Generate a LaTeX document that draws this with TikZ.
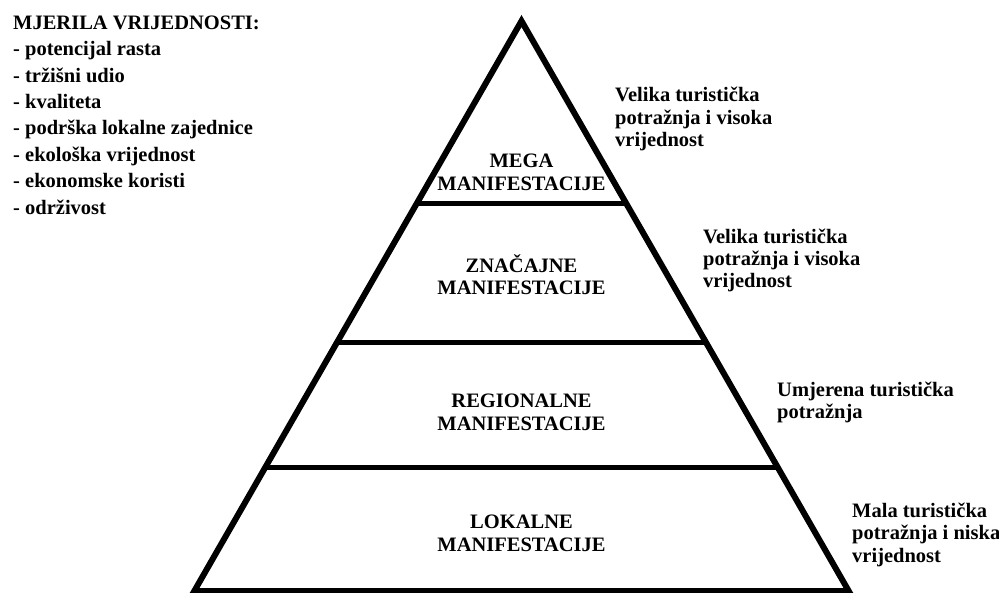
\documentclass[tikz,border=0pt]{standalone}
\usepackage{fontspec}
\setmainfont{Liberation Serif}
\usetikzlibrary{calc}
\begin{document}
\begin{tikzpicture}[x=1pt,y=-1pt,
  txt/.style={inner sep=0pt, font=\fontsize{20.5}{22.5}\selectfont\bfseries},
  lt/.style={txt, anchor=base west},
  ct/.style={txt, anchor=base},
  side/.style={line width=6pt, line join=miter},
  level/.style={line width=5pt}]
\useasboundingbox (0,0) rectangle (999,592);
\clip (0,0) rectangle (999,592);
% pyramid
\coordinate (apex) at (521.5,21);
\coordinate (bl) at (194.3,591);
\coordinate (br) at (848.7,591);
\draw[side] (apex) -- (br) -- (bl) -- cycle;
\coordinate (l1) at ($(apex)!0.3193!(bl)$);
\coordinate (r1) at ($(apex)!0.3193!(br)$);
\coordinate (l2) at ($(apex)!0.5649!(bl)$);
\coordinate (r2) at ($(apex)!0.5649!(br)$);
\coordinate (l3) at ($(apex)!0.7842!(bl)$);
\coordinate (r3) at ($(apex)!0.7842!(br)$);
\draw[level] (l1) -- (r1);
\draw[level] (l2) -- (r2);
\draw[level] (l3) -- (r3);
% level labels
\node[ct] (mega1) at (521.5,167) {MEGA};
\node[ct] (mega2) at (521.5,190) {MANIFESTACIJE};
\node[ct] (zn1) at (521.5,272) {ZNAČAJNE};
\node[ct] (zn2) at (521.5,294.5) {MANIFESTACIJE};
\node[ct] (reg1) at (521.5,407) {REGIONALNE};
\node[ct] (reg2) at (521.5,430) {MANIFESTACIJE};
\node[ct] (lok1) at (521.5,528) {LOKALNE};
\node[ct] (lok2) at (521.5,551) {MANIFESTACIJE};
% right descriptions
\node[lt] (d1a) at (615,101.7) {Velika turistička};
\node[lt] (d1b) at (615,124.2) {potražnja i visoka};
\node[lt] (d1c) at (615,146.7) {vrijednost};
\node[lt] (d2a) at (703,243.3) {Velika turistička};
\node[lt] (d2b) at (703,265.5) {potražnja i visoka};
\node[lt] (d2c) at (703,287.7) {vrijednost};
\node[lt] (d3a) at (777,396) {Umjerena turistička};
\node[lt] (d3b) at (777,418.5) {potražnja};
\node[lt] (d4a) at (852,517) {Mala turistička};
\node[lt] (d4b) at (852,539.5) {potražnja i niska};
\node[lt] (d4c) at (852,562) {vrijednost};
% value criteria list
\node[lt] (m0) at (13,29.3) {MJERILA VRIJEDNOSTI:};
\node[lt] (m1) at (13,55.7) {- potencijal rasta};
\node[lt] (m2) at (13,82.1) {- tržišni udio};
\node[lt] (m3) at (13,108.5) {- kvaliteta};
\node[lt] (m4) at (13,134.9) {- podrška lokalne zajednice};
\node[lt] (m5) at (13,161.3) {- ekološka vrijednost};
\node[lt] (m6) at (13,187.7) {- ekonomske koristi};
\node[lt] (m7) at (13,214.1) {- održivost};
\end{tikzpicture}
\end{document}
